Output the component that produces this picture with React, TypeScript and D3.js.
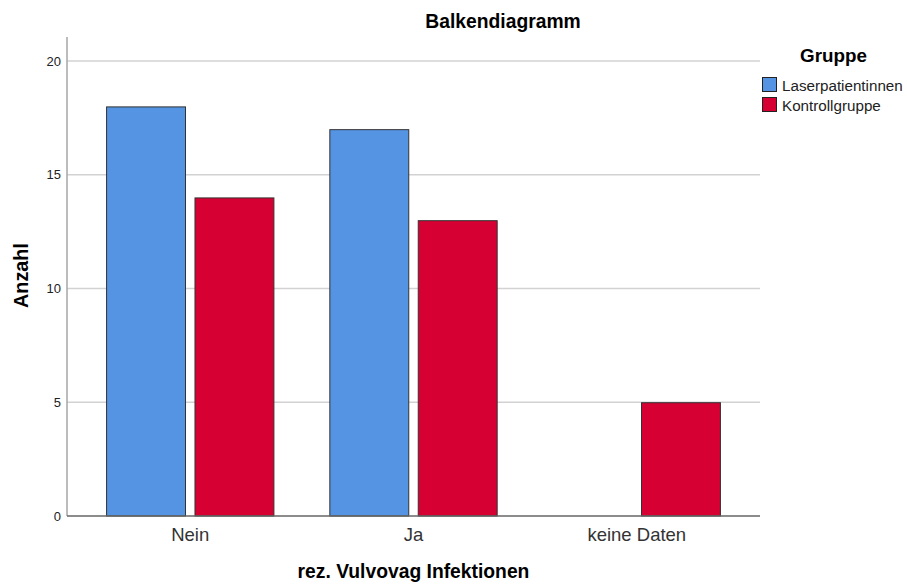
import React, { useEffect, useRef } from "react";
import * as d3 from "d3";

const categories = ["Nein", "Ja", "keine Daten"];
const groups = ["Laserpatientinnen", "Kontrollgruppe"];
const laserValues = [18, 17, 0];
const kontrollValues = [14, 13, 5];
const yTicks = [0, 5, 10, 15, 20];
const colors = ["#5594E3", "#D70032"];

const W = 907;
const H = 585;
const font = "'Liberation Sans', Arial, sans-serif";

export default function App() {
  const ref = useRef<SVGSVGElement>(null);

  useEffect(() => {
    const svg = d3.select(ref.current);
    svg.selectAll("*").remove();

    const left = 67, right = 760, top = 37, bottom = 516;

    const x = d3.scaleBand().domain(categories).range([left, right])
      .paddingInner(0.246).paddingOuter(0.175);
    const xs = d3.scaleBand().domain(groups).range([0, x.bandwidth()]).paddingInner(0.096);
    const y = d3.scaleLinear().domain([0, 21.05]).range([bottom, top]);

    // grid
    svg.append("g").selectAll("line").data(yTicks.filter(t => t > 0)).enter().append("line")
      .attr("x1", left).attr("x2", right)
      .attr("y1", d => y(d)).attr("y2", d => y(d))
      .attr("stroke", "#d2d2d2").attr("stroke-width", 1.5);

    // bars
    const rows = categories.map((c, i) => ({ c, vals: [laserValues[i], kontrollValues[i]] }));
    const g = svg.append("g").selectAll("g").data(rows).enter().append("g")
      .attr("transform", d => `translate(${x(d.c)},0)`);
    g.selectAll("rect")
      .data(d => d.vals.map((v, j) => ({ v, grp: groups[j], j })).filter(e => e.v > 0))
      .enter().append("rect")
      .attr("x", d => xs(d.grp)! + 0.5)
      .attr("y", d => y(d.v) + 0.5)
      .attr("width", xs.bandwidth() - 1)
      .attr("height", d => y(0) - y(d.v) - 0.5)
      .attr("fill", d => colors[d.j])
      .attr("stroke", "#333")
      .attr("stroke-width", 1);

    // y axis
    const yAxis = svg.append("g").attr("transform", `translate(${left},0)`)
      .call(d3.axisLeft(y).tickValues(yTicks).tickSize(0).tickPadding(6));
    yAxis.select(".domain").remove();
    yAxis.selectAll("text").attr("font-family", font).attr("font-size", 13).attr("fill", "#222");
    svg.append("line").attr("x1", left).attr("x2", left).attr("y1", top).attr("y2", bottom)
      .attr("stroke", "#a6a6a6").attr("stroke-width", 1.5);

    // x axis
    const xAxis = svg.append("g").attr("transform", `translate(0,${bottom})`)
      .call(d3.axisBottom(x).tickSize(0).tickPadding(12));
    xAxis.select(".domain").remove();
    xAxis.selectAll("text").attr("font-family", font).attr("font-size", 18.5).attr("fill", "#333");
    svg.append("line").attr("x1", left).attr("x2", right).attr("y1", bottom).attr("y2", bottom)
      .attr("stroke", "#666").attr("stroke-width", 1.5);

    // titles
    svg.append("text").attr("x", 503).attr("y", 28).attr("text-anchor", "middle")
      .attr("font-family", font).attr("font-weight", "bold").attr("font-size", 19.3)
      .text("Balkendiagramm");
    svg.append("text").attr("x", (left + right) / 2).attr("y", 578).attr("text-anchor", "middle")
      .attr("font-family", font).attr("font-weight", "bold").attr("font-size", 19.3)
      .text("rez. Vulvovag Infektionen");
    svg.append("text").attr("transform", "translate(28,275.5) rotate(-90)").attr("text-anchor", "middle")
      .attr("font-family", font).attr("font-weight", "bold").attr("font-size", 19.8)
      .text("Anzahl");

    // legend
    svg.append("text").attr("x", 833.5).attr("y", 61.5).attr("text-anchor", "middle")
      .attr("font-family", font).attr("font-weight", "bold").attr("font-size", 18.8)
      .text("Gruppe");
    const lg = svg.append("g").selectAll("g").data(groups).enter().append("g")
      .attr("transform", (d, i) => `translate(762,${77 + i * 20})`);
    lg.append("rect").attr("x", 0.5).attr("y", 0.5).attr("width", 14).attr("height", 14)
      .attr("fill", (d, i) => colors[i]).attr("stroke", "#222");
    lg.append("text").attr("x", 20).attr("y", 14).attr("font-family", font).attr("font-size", 15.2)
      .attr("fill", "#222").text(d => d);
  }, []);

  return (
    <svg ref={ref} width={W} height={H} style={{ position: "absolute", left: 0, top: 0, background: "#fff" }} />
  );
}
